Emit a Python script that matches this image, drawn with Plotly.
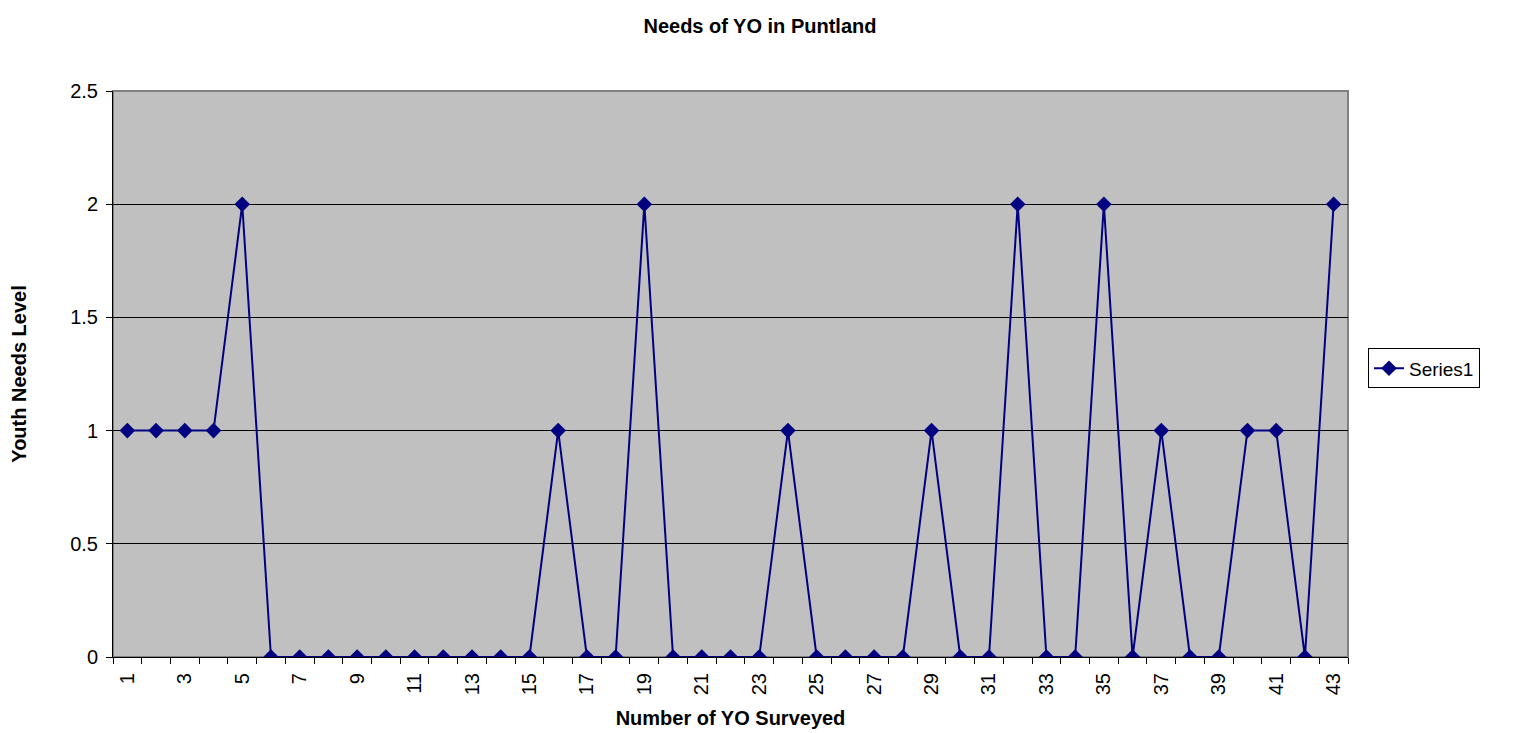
import plotly.graph_objects as go

surveyed = list(range(1, 44))
needs = [1, 1, 1, 1, 2, 0, 0, 0, 0, 0, 0, 0, 0, 0, 0, 1, 0, 0, 2, 0,
         0, 0, 0, 1, 0, 0, 0, 0, 1, 0, 0, 2, 0, 0, 2, 0, 1, 0, 0, 1,
         1, 0, 2]
x_tick_labels = [str(v) for v in range(1, 44, 2)]

navy = "#000080"
font = "Liberation Sans, Arial, sans-serif"

fig = go.Figure()
fig.add_trace(go.Scatter(
    x=surveyed, y=needs, mode="lines+markers", name="Series1",
    line=dict(color=navy, width=2),
    marker=dict(symbol="diamond", size=12, color=navy),
))

fig.update_layout(
    width=1513, height=733,
    margin=dict(l=105, r=173, t=83, b=84),
    paper_bgcolor="white", plot_bgcolor="#C0C0C0",
    font=dict(family=font, size=20, color="black"),
    title=dict(text="<b>Needs of YO in Puntland</b>", x=0.497, xanchor="center",
               y=0.975, yanchor="middle", font=dict(size=20)),
    showlegend=True,
    legend=dict(x=1.0162, xanchor="left", y=0.51, yanchor="middle",
                bordercolor="black", borderwidth=1, bgcolor="white",
                font=dict(size=19)),
    shapes=[dict(type="rect", xref="x domain", yref="y domain", x0=0, x1=1, y0=0, y1=1,
                 line=dict(color="#808080", width=2), layer="below")],
)

fig.update_xaxes(
    range=[0.5, 43.5], tickmode="array", automargin=False,
    tickvals=list(range(1, 44, 2)), ticktext=x_tick_labels,
    tickangle=-90, ticks="", showgrid=False, zeroline=False,
    showline=True, linecolor="black", linewidth=1, ticklabelstandoff=7,
    minor=dict(tickmode="array", tickvals=[v + 0.5 for v in range(0, 44)],
               ticks="outside", ticklen=6, tickcolor="black", showgrid=False),
    title=dict(text="<b>Number of YO Surveyed</b>", font=dict(size=20), standoff=16),
)
fig.update_yaxes(
    range=[0, 2.5], tickmode="array", tickvals=[0, 0.5, 1, 1.5, 2, 2.5],
    ticktext=["0", "0.5", "1", "1.5", "2", "2.5"], automargin=False,
    ticks="outside", ticklen=6, tickcolor="black", ticklabelstandoff=4,
    showgrid=True, gridcolor="black", gridwidth=1, zeroline=False,
    showline=True, linecolor="black", linewidth=1,
    title=dict(text="<b>Youth Needs Level</b>", font=dict(size=20), standoff=40),
)

fig.write_html("out.html")
